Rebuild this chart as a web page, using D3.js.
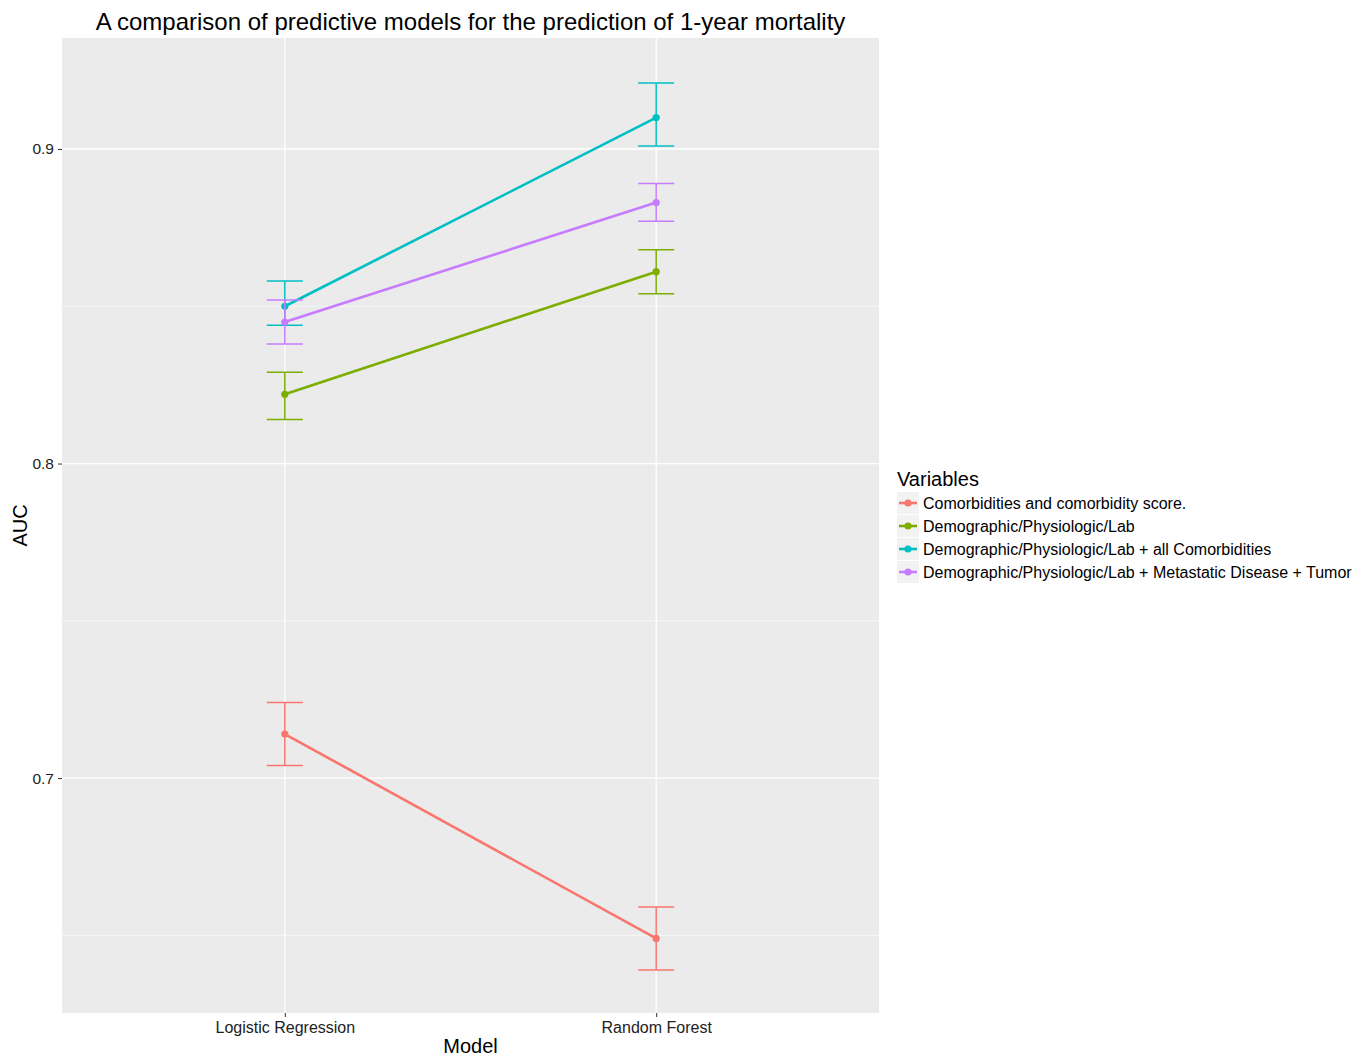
<!DOCTYPE html>
<html><head><meta charset="utf-8">
<script src="https://cdn.jsdelivr.net/npm/d3@7"></script>
<style>body{margin:0;background:#fff;font-family:"Liberation Sans",Arial,sans-serif;}</style>
</head><body>
<svg id="c" width="1366" height="1056"></svg>
<script>
const models = ["Logistic Regression", "Random Forest"];
const seriesNames = ["Comorbidities and comorbidity score.", "Demographic/Physiologic/Lab", "Demographic/Physiologic/Lab + all Comorbidities", "Demographic/Physiologic/Lab + Metastatic Disease + Tumor"];
const colors = ["#F8766D", "#7CAE00", "#00BFC4", "#C77CFF"];
const auc = [[0.714, 0.649],[0.822, 0.861],[0.850, 0.910],[0.845, 0.883]];
const lower = [[0.704, 0.639],[0.814, 0.854],[0.844, 0.901],[0.838, 0.877]];
const upper = [[0.724, 0.659],[0.829, 0.868],[0.858, 0.921],[0.852, 0.889]];
const yTicks = [0.7, 0.8, 0.9];
const yMinor = [0.65, 0.75, 0.85];

const svg = d3.select("#c");
const L = 62, R = 879, T = 38, B = 1013;
const x = d3.scalePoint().domain(models).range([L, R]).padding(0.6);
const y = d3.scaleLinear().domain([0.6253, 0.9353]).range([B, T]);

svg.append("rect").attr("x", L).attr("y", T).attr("width", R - L).attr("height", B - T).attr("fill", "#EBEBEB");
const g = svg.append("g");
g.selectAll(".mn").data(yMinor).join("line").attr("x1", L).attr("x2", R)
  .attr("y1", d => y(d)).attr("y2", d => y(d)).attr("stroke", "#fff").attr("stroke-width", 0.6);
g.selectAll(".mj").data(yTicks).join("line").attr("x1", L).attr("x2", R)
  .attr("y1", d => y(d)).attr("y2", d => y(d)).attr("stroke", "#fff").attr("stroke-width", 1.3);
g.selectAll(".vx").data(models).join("line").attr("y1", T).attr("y2", B)
  .attr("x1", d => x(d)).attr("x2", d => x(d)).attr("stroke", "#fff").attr("stroke-width", 1.3);

// axes
const yAx = svg.append("g").attr("transform", `translate(${L},0)`)
  .call(d3.axisLeft(y).tickValues(yTicks).tickFormat(d3.format(".1f")).tickSize(4).tickPadding(4));
yAx.select(".domain").remove();
yAx.selectAll("line").attr("stroke", "#333");
yAx.selectAll("text").attr("font-size", 15.5).attr("fill", "#222").attr("font-family", "Liberation Sans, Arial, sans-serif");
const xAx = svg.append("g").attr("transform", `translate(0,${B})`)
  .call(d3.axisBottom(x).tickSize(4).tickPadding(5));
xAx.select(".domain").remove();
xAx.selectAll("line").attr("stroke", "#333");
xAx.selectAll("text").attr("font-size", 16).attr("fill", "#222").attr("font-family", "Liberation Sans, Arial, sans-serif");

// data
const cap = 18;
seriesNames.forEach((s, i) => {
  const col = colors[i];
  const pts = models.map((m, j) => ({m, v: auc[i][j], lo: lower[i][j], hi: upper[i][j]}));
  const eg = svg.append("g").attr("stroke", col).attr("stroke-width", 1.5).attr("fill", "none");
  pts.forEach(p => {
    eg.append("line").attr("x1", x(p.m)).attr("x2", x(p.m)).attr("y1", y(p.lo)).attr("y2", y(p.hi));
    eg.append("line").attr("x1", x(p.m) - cap).attr("x2", x(p.m) + cap).attr("y1", y(p.lo)).attr("y2", y(p.lo));
    eg.append("line").attr("x1", x(p.m) - cap).attr("x2", x(p.m) + cap).attr("y1", y(p.hi)).attr("y2", y(p.hi));
  });
  svg.append("path").datum(pts).attr("fill", "none").attr("stroke", col).attr("stroke-width", 2.6)
    .attr("d", d3.line().x(d => x(d.m)).y(d => y(d.v)));
  svg.selectAll(null).data(pts).join("circle").attr("cx", d => x(d.m)).attr("cy", d => y(d.v))
    .attr("r", 3.6).attr("fill", col);
});

// titles
svg.append("text").attr("x", (L + R) / 2).attr("y", 30).attr("text-anchor", "middle")
  .attr("font-size", 24).attr("fill", "#000").text("A comparison of predictive models for the prediction of 1-year mortality");
svg.append("text").attr("x", (L + R) / 2).attr("y", 1053).attr("text-anchor", "middle")
  .attr("font-size", 20).attr("fill", "#000").text("Model");
svg.append("text").attr("transform", `translate(27,${(T + B) / 2}) rotate(-90)`).attr("text-anchor", "middle")
  .attr("font-size", 20).attr("fill", "#000").text("AUC");

// legend
const lg = svg.append("g").attr("transform", "translate(897,0)");
lg.append("text").attr("x", 0).attr("y", 486).attr("font-size", 20).attr("fill", "#000").text("Variables");
seriesNames.forEach((s, i) => {
  const cy = 503 + i * 23;
  lg.append("rect").attr("x", 0).attr("y", cy - 11).attr("width", 22).attr("height", 22).attr("fill", "#F2F2F2");
  lg.append("line").attr("x1", 2).attr("x2", 20).attr("y1", cy).attr("y2", cy).attr("stroke", colors[i]).attr("stroke-width", 2.6);
  lg.append("circle").attr("cx", 11).attr("cy", cy).attr("r", 3.6).attr("fill", colors[i]);
  lg.append("text").attr("x", 26).attr("y", cy + 5.5).attr("font-size", 16).attr("fill", "#000").text(s);
});
</script>
</body></html>
